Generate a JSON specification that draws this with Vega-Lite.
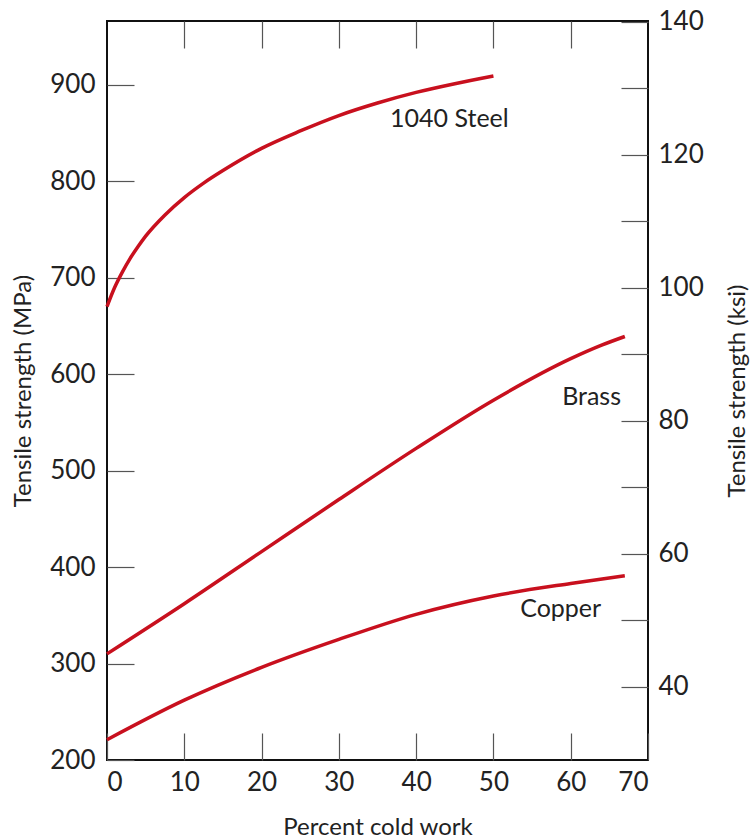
{
  "$schema": "https://vega.github.io/schema/vega-lite/v6.json",
  "autosize": "none",
  "width": 541,
  "height": 739,
  "padding": {"left": 107, "top": 21, "right": 103, "bottom": 80},
  "background": "white",
  "config": {
    "view": {"stroke": "#111", "strokeWidth": 2},
    "axis": {
      "labelFont": "Lato",
      "labelFontSize": 26,
      "labelColor": "#222",
      "titleFont": "Lato",
      "titleFontSize": 24,
      "titleFontWeight": "normal",
      "titleColor": "#222",
      "domain": false,
      "grid": false,
      "tickColor": "#555",
      "tickWidth": 1.2,
      "tickSize": -27
    }
  },
  "datasets": {
    "curves": [
      {"series": "steel", "pct": 0, "mpa": 670},
      {"series": "steel", "pct": 1, "mpa": 690},
      {"series": "steel", "pct": 2, "mpa": 706},
      {"series": "steel", "pct": 3, "mpa": 720},
      {"series": "steel", "pct": 4, "mpa": 732},
      {"series": "steel", "pct": 5, "mpa": 743},
      {"series": "steel", "pct": 7.5, "mpa": 765},
      {"series": "steel", "pct": 10, "mpa": 783},
      {"series": "steel", "pct": 12.5, "mpa": 798},
      {"series": "steel", "pct": 15, "mpa": 811},
      {"series": "steel", "pct": 20, "mpa": 834},
      {"series": "steel", "pct": 25, "mpa": 852},
      {"series": "steel", "pct": 30, "mpa": 868},
      {"series": "steel", "pct": 35, "mpa": 881},
      {"series": "steel", "pct": 40, "mpa": 892},
      {"series": "steel", "pct": 45, "mpa": 901},
      {"series": "steel", "pct": 50, "mpa": 909},
      {"series": "brass", "pct": 0, "mpa": 310},
      {"series": "brass", "pct": 10, "mpa": 362},
      {"series": "brass", "pct": 20, "mpa": 416},
      {"series": "brass", "pct": 30, "mpa": 470},
      {"series": "brass", "pct": 40, "mpa": 523},
      {"series": "brass", "pct": 50, "mpa": 573},
      {"series": "brass", "pct": 60, "mpa": 616},
      {"series": "brass", "pct": 64, "mpa": 630},
      {"series": "brass", "pct": 67, "mpa": 639},
      {"series": "copper", "pct": 0, "mpa": 221},
      {"series": "copper", "pct": 10, "mpa": 262},
      {"series": "copper", "pct": 20, "mpa": 296},
      {"series": "copper", "pct": 30, "mpa": 325},
      {"series": "copper", "pct": 40, "mpa": 351},
      {"series": "copper", "pct": 50, "mpa": 370},
      {"series": "copper", "pct": 60, "mpa": 383},
      {"series": "copper", "pct": 67, "mpa": 391}
    ],
    "labels": [
      {"label": "1040 Steel", "pct": 44.3, "mpa": 864},
      {"label": "Brass", "pct": 62.7, "mpa": 576},
      {"label": "Copper", "pct": 58.7, "mpa": 357}
    ],
    "ksiAxis": [
      {"pct": 0, "ksi": 40}
    ]
  },
  "layer": [
    {
      "layer": [
        {
          "data": {"name": "curves"},
          "mark": {"type": "line", "color": "#c8101e", "strokeWidth": 3.5, "interpolate": "monotone"},
          "encoding": {
            "x": {
              "field": "pct", "type": "quantitative",
              "scale": {"domain": [0, 70], "nice": false},
              "axis": {"orient": "bottom", "values": [0, 10, 20, 30, 40, 50, 60, 70], "title": "Percent cold work", "labelPadding": 36, "titlePadding": 20}
            },
            "y": {
              "field": "mpa", "type": "quantitative",
              "scale": {"domain": [200, 966], "nice": false, "zero": false},
              "axis": {"orient": "left", "values": [200, 300, 400, 500, 600, 700, 800, 900], "title": "Tensile strength (MPa)", "labelPadding": 39, "titlePadding": 14}
            },
            "detail": {"field": "series"}
          }
        },
        {
          "data": {"name": "labels"},
          "mark": {"type": "text", "font": "Lato", "fontSize": 25, "color": "#222", "align": "center", "baseline": "middle"},
          "encoding": {
            "x": {"field": "pct", "type": "quantitative"},
            "y": {"field": "mpa", "type": "quantitative"},
            "text": {"field": "label"}
          }
        }
      ]
    },
    {
      "data": {"name": "ksiAxis"},
      "mark": {"type": "point", "opacity": 0},
      "encoding": {
        "x": {
          "field": "pct", "type": "quantitative",
          "scale": {"domain": [0, 70], "nice": false},
          "axis": {"orient": "top", "values": [10, 20, 30, 40, 50, 60], "labels": false, "title": null}
        },
        "y": {
          "field": "ksi", "type": "quantitative",
          "scale": {"domain": [29.007, 140.1], "nice": false, "zero": false},
          "axis": {"orient": "right", "values": [40, 50, 60, 70, 80, 90, 100, 110, 120, 130, 140], "labelExpr": "datum.value % 20 == 0 ? datum.label : ''", "title": "Tensile strength (ksi)", "titleAngle": 270, "titleBaseline": "top", "labelPadding": 37, "titlePadding": 22}
        }
      }
    }
  ],
  "resolve": {"scale": {"y": "independent"}, "axis": {"x": "independent", "y": "independent"}}
}
